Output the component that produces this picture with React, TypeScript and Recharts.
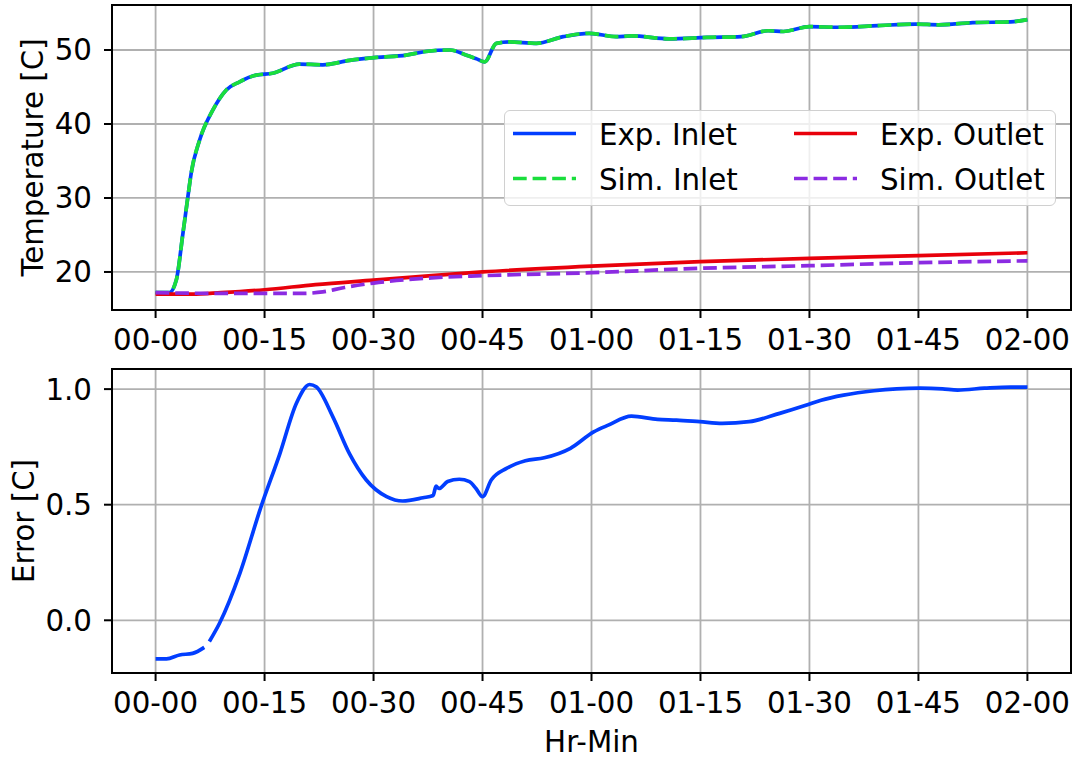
import { LineChart, Line, XAxis, YAxis, CartesianGrid, Legend, ReferenceArea } from "recharts";

// elapsed time in minutes for each logged series
const inletMinutes = [0, 1.9, 2.85, 3.76, 4.45, 4.91, 6.05, 7.89, 9.73, 11.56, 13.85, 16.1, 19.8, 23, 26.7, 30.4, 34.5, 37.2, 40.5, 42.8, 44.2, 45.3, 46.9, 48.7, 52.4, 56.1, 59.7, 63.4, 65.5, 70.7, 75.9, 80.6, 84.3, 86.4, 90, 94.2, 99.4, 104.6, 107.8, 112.5, 117.7, 120];
const expInletTemp = [17.2, 17.2, 18.9, 25.2, 30.2, 33.4, 37.8, 41.9, 44.6, 45.7, 46.6, 46.85, 48.1, 48.0, 48.6, 49.0, 49.3, 49.8, 50.0, 49.3, 48.8, 48.4, 50.9, 51.1, 50.9, 51.8, 52.25, 51.8, 51.9, 51.5, 51.7, 51.8, 52.6, 52.5, 53.15, 53.07, 53.3, 53.5, 53.4, 53.7, 53.8, 54.1];
const simInletTemp = [17.2, 17.2, 18.9, 25.2, 30.2, 33.4, 37.8, 41.9, 44.6, 45.7, 46.6, 46.85, 48.1, 48.0, 48.6, 49.0, 49.3, 49.8, 50.0, 49.3, 48.8, 48.4, 50.9, 51.1, 50.9, 51.8, 52.25, 51.8, 51.9, 51.5, 51.7, 51.8, 52.6, 52.5, 53.15, 53.07, 53.3, 53.5, 53.4, 53.7, 53.8, 54.1];

const expOutletMinutes = [0, 5, 9, 15, 22, 30, 38, 45, 60, 75, 90, 105, 120];
const expOutletTemp = [17.0, 17.0, 17.2, 17.6, 18.3, 18.9, 19.5, 20.0, 20.8, 21.4, 21.85, 22.2, 22.6];

const simOutletMinutes = [0, 10, 20, 23, 26, 30, 38, 45, 60, 75, 90, 105, 120];
const simOutletTemp = [17.2, 17.1, 17.1, 17.3, 17.9, 18.5, 19.2, 19.5, 19.9, 20.5, 20.85, 21.25, 21.5];

const errorMinutes = [0, 1.5, 3.3, 5.1, 6.7, 7.0, 7.4, 8.8, 11.6, 14.5, 17.1, 19.4, 21.2, 22.1, 24.4, 26.7, 29, 31.8, 34, 36.8, 38.2, 38.6, 39, 40.2, 41.8, 43.2, 44.1, 45, 46.2, 48.3, 50.9, 53.5, 57.1, 60.3, 62.3, 65.5, 69.1, 71.7, 74.9, 78, 81.7, 85.9, 89.5, 91.6, 94.7, 98.9, 102, 105.2, 108.3, 110.4, 114.1, 117.7, 120];
const errorValues = [-0.167, -0.167, -0.15, -0.143, -0.117, null, -0.092, -0.013, 0.203, 0.49, 0.72, 0.94, 1.02, 1.01, 0.88, 0.72, 0.607, 0.535, 0.516, 0.53, 0.54, 0.58, 0.57, 0.6, 0.61, 0.6, 0.57, 0.535, 0.607, 0.657, 0.69, 0.703, 0.744, 0.815, 0.844, 0.883, 0.869, 0.866, 0.859, 0.852, 0.859, 0.895, 0.93, 0.952, 0.974, 0.993, 1.001, 1.004, 1.001, 0.996, 1.004, 1.009, 1.009];

const timeTicks = [0, 15, 30, 45, 60, 75, 90, 105, 120];
const tempTicks = [20, 30, 40, 50];
const errorTicks = [0, 0.5, 1.0];

const legendItems = [
  { label: "Exp. Inlet", color: "#023eff", dashed: false },
  { label: "Sim. Inlet", color: "#1ade3c", dashed: true },
  { label: "Exp. Outlet", color: "#e8000b", dashed: false },
  { label: "Sim. Outlet", color: "#8b2be2", dashed: true },
];

const zip = (xs: number[], ys: (number | null)[]) => xs.map((m, i) => ({ m, v: ys[i] }));

const FONT = "DejaVu Sans";
const FS = 29.3;
const LW = 3.7;
const DASH = "13.7 5.9";
const tickStyle = { fontSize: FS, fill: "#000", fontFamily: FONT };

const hrMin = (v: number) => {
  const h = Math.floor(v / 60);
  const m = v % 60;
  return `${String(h).padStart(2, "0")}-${String(m).padStart(2, "0")}`;
};

// rotated y-axis title, baseline at x
const yTitle = (text: string, x: number) => (props: any) => {
  const vb = props.viewBox || {};
  const cy = vb.y + vb.height / 2;
  return (
    <text x={x} y={cy} transform={`rotate(-90 ${x} ${cy})`} textAnchor="middle" fontSize={FS} fontFamily={FONT} fill="#000">
      {text}
    </text>
  );
};

function LegendBox() {
  return (
    <div
      style={{
        width: 552,
        height: 96,
        boxSizing: "border-box",
        border: "1.7px solid #d0d0d0",
        borderRadius: 6,
        background: "rgba(255,255,255,0.8)",
      }}
    >
      <svg width={552} height={96} style={{ position: "absolute", left: 0, top: 0 }}>
        {legendItems.map((it, i) => {
          const col = Math.floor(i / 2);
          const row = i % 2;
          const x0 = col === 0 ? 9 : 290;
          const y = row === 0 ? 23.5 : 68.5;
          return (
            <g key={it.label}>
              <line x1={x0} x2={x0 + 63} y1={y} y2={y} stroke={it.color} strokeWidth={LW} strokeDasharray={it.dashed ? DASH : undefined} />
              <text x={x0 + 86} y={y + 11} fontSize={FS} fontFamily={FONT} fill="#000">
                {it.label}
              </text>
            </g>
          );
        })}
      </svg>
    </div>
  );
}

export default function App() {
  const expInlet = zip(inletMinutes, expInletTemp);
  const simInlet = zip(inletMinutes, simInletTemp);
  const expOutlet = zip(expOutletMinutes, expOutletTemp);
  const simOutlet = zip(simOutletMinutes, simOutletTemp);
  const error = zip(errorMinutes, errorValues);

  const tempDomain = [14.86, 56.08];
  const errDomain = [-0.228, 1.087];

  return (
    <div style={{ position: "absolute", left: 0, top: 0, width: 1075, height: 759, background: "#fff", fontFamily: FONT }}>
      <div style={{ position: "absolute", left: 0, top: 0 }}>
        <LineChart width={1075} height={360} margin={{ top: 5, right: 4, left: 0, bottom: 0 }}>
          <CartesianGrid stroke="#b0b0b0" strokeWidth={1.8} />
          <XAxis
            dataKey="m"
            type="number"
            domain={[-6, 126]}
            allowDataOverflow
            ticks={timeTicks}
            interval={0}
            tickFormatter={hrMin}
            tick={tickStyle}
            tickSize={8}
            tickMargin={11}
            tickLine={{ stroke: "#000", strokeWidth: 2 }}
            axisLine={false}
            height={50}
          />
          <YAxis
            type="number"
            domain={tempDomain}
            allowDataOverflow
            ticks={tempTicks}
            interval={0}
            tick={tickStyle}
            tickSize={8}
            tickMargin={12}
            tickLine={{ stroke: "#000", strokeWidth: 2 }}
            axisLine={false}
            width={112}
            label={{ content: yTitle("Temperature [C]", 43) }}
          />
          <ReferenceArea x1={-6} x2={126} y1={tempDomain[0]} y2={tempDomain[1]} fill="none" stroke="#000" strokeWidth={2} />
          <Line data={expInlet} dataKey="v" name="Exp. Inlet" type="monotone" stroke="#023eff" strokeWidth={LW} dot={false} isAnimationActive={false} />
          <Line data={simInlet} dataKey="v" name="Sim. Inlet" type="monotone" stroke="#1ade3c" strokeWidth={LW} strokeDasharray={DASH} dot={false} isAnimationActive={false} />
          <Line data={expOutlet} dataKey="v" name="Exp. Outlet" type="monotone" stroke="#e8000b" strokeWidth={LW} dot={false} isAnimationActive={false} />
          <Line data={simOutlet} dataKey="v" name="Sim. Outlet" type="monotone" stroke="#8b2be2" strokeWidth={LW} strokeDasharray={DASH} dot={false} isAnimationActive={false} />
          <Legend
            layout="vertical"
            align="center"
            verticalAlign="middle"
            content={() => <LegendBox />}
            wrapperStyle={{ left: 504, top: 110, width: 552, height: 96 }}
          />
        </LineChart>
      </div>

      <div style={{ position: "absolute", left: 0, top: 360 }}>
        <LineChart width={1075} height={399} margin={{ top: 9, right: 4, left: 0, bottom: 0 }}>
          <CartesianGrid stroke="#b0b0b0" strokeWidth={1.8} />
          <XAxis
            dataKey="m"
            type="number"
            domain={[-6, 126]}
            allowDataOverflow
            ticks={timeTicks}
            interval={0}
            tickFormatter={hrMin}
            tick={tickStyle}
            tickSize={8}
            tickMargin={11}
            tickLine={{ stroke: "#000", strokeWidth: 2 }}
            axisLine={false}
            height={86}
            label={{ value: "Hr-Min", position: "insideBottom", offset: 7, fontSize: FS, fill: "#000", fontFamily: FONT }}
          />
          <YAxis
            type="number"
            domain={errDomain}
            allowDataOverflow
            ticks={errorTicks}
            interval={0}
            tickFormatter={(v: number) => v.toFixed(1)}
            tick={tickStyle}
            tickSize={8}
            tickMargin={12}
            tickLine={{ stroke: "#000", strokeWidth: 2 }}
            axisLine={false}
            width={112}
            label={{ content: yTitle("Error [C]", 34) }}
          />
          <ReferenceArea x1={-6} x2={126} y1={errDomain[0]} y2={errDomain[1]} fill="none" stroke="#000" strokeWidth={2} />
          <Line data={error} dataKey="v" type="monotone" stroke="#023eff" strokeWidth={LW} dot={false} isAnimationActive={false} />
        </LineChart>
      </div>
    </div>
  );
}
